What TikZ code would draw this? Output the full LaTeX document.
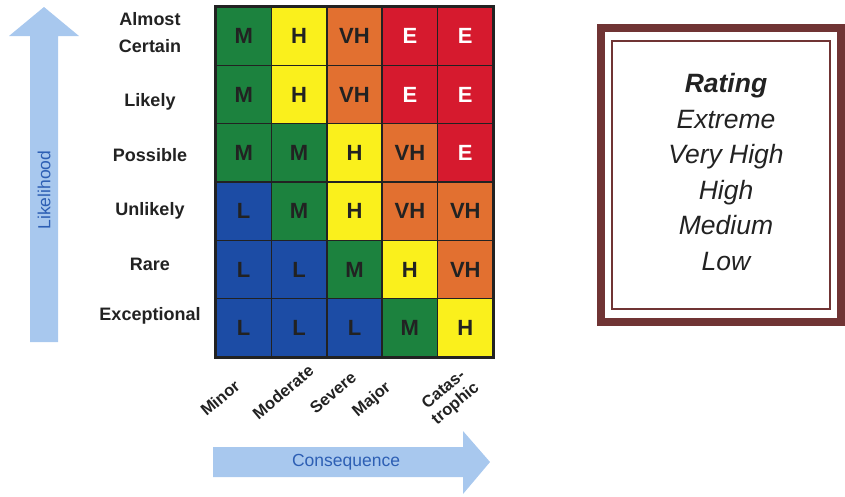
\documentclass[tikz,border=0pt]{standalone}
\usepackage{fontspec}
\setmainfont{Liberation Sans}
\definecolor{cg}{RGB}{28,130,62}
\definecolor{cy}{RGB}{250,240,28}
\definecolor{co}{RGB}{226,112,48}
\definecolor{cr}{RGB}{214,26,46}
\definecolor{cb}{RGB}{28,76,165}
\definecolor{arrowblue}{RGB}{168,200,238}
\definecolor{axistext}{RGB}{45,95,180}
\definecolor{ink}{RGB}{34,34,34}
\definecolor{framered}{RGB}{112,52,52}
\tikzset{
  cell/.style={draw=ink, line width=1.5pt, minimum width=55.4pt, minimum height=58.33pt,
    inner sep=0pt, text=ink, font=\bfseries\fontsize{22}{24}\selectfont},
  rate L/.style={fill=cb},
  rate M/.style={fill=cg},
  rate H/.style={fill=cy},
  rate VH/.style={fill=co},
  rate E/.style={fill=cr, text=white},
  rowlabel/.style={text=ink, align=center, inner sep=0pt,
    font=\bfseries\fontsize{18}{27}\selectfont},
  collabel/.style={text=ink, align=center, inner sep=0pt, rotate=40,
    font=\bfseries\fontsize{16.5}{18.5}\selectfont},
  axislabel/.style={text=axistext, inner sep=0pt, font=\fontsize{17.5}{20}\selectfont},
  bigarrow/.style={fill=arrowblue, draw=none},
  ratingtext/.style={text=ink, align=center, inner sep=0pt,
    font=\itshape\fontsize{26.5}{35.5}\selectfont}
}
\begin{document}
\begin{tikzpicture}[x=1pt, y=-1pt]
\useasboundingbox (0,0) rectangle (845,496);

% likelihood arrow (pointing up)
\fill[bigarrow] (30,342) -- (30,36) -- (9,36) -- (44,7) -- (79,36) -- (58,36) -- (58,342) -- cycle;
\node[axislabel, rotate=90] (likelihood) at (44,190) {Likelihood};

% consequence arrow (pointing right)
\fill[bigarrow] (213,447) -- (463,447) -- (463,431) -- (490,462) -- (463,494) -- (463,477) -- (213,477) -- cycle;
\node[axislabel] (consequence) at (346,462) {Consequence};

% risk matrix cells
\foreach \rowlist [count=\r] in {{M,H,VH,E,E},{M,H,VH,E,E},{M,M,H,VH,E},{L,M,H,VH,VH},{L,L,M,H,VH},{L,L,L,M,H}} {
  \foreach \c [count=\k] in \rowlist {
    \node[cell, rate \c] (c-\r-\k) at ({216+55.4*(\k-0.5)},{7+58.33*(\r-0.5)}) {\c};
  }
}
\draw[ink, line width=2pt] (c-1-1.north west) rectangle (c-6-5.south east);

% likelihood levels
\node[rowlabel] (row-1) at (150,33) {Almost\\Certain};
\node[rowlabel] (row-2) at (150,102) {Likely};
\node[rowlabel] (row-3) at (150,155) {Possible};
\node[rowlabel] (row-4) at (150,211) {Unlikely};
\node[rowlabel] (row-5) at (150,264) {Rare};
\node[rowlabel] (row-6) at (150,316) {Exceptional};

% consequence levels
\node[collabel] (col-1) at (220,398) {Minor};
\node[collabel] (col-2) at (283,392) {Moderate};
\node[collabel] (col-3) at (333,393) {Severe};
\node[collabel] (col-4) at (372,400) {Major};
\node[collabel] (col-5) at (450,397) {Catas-\\trophic};

% rating legend with double frame
\draw[framered, line width=8pt] (601,28) rectangle (841,322);
\draw[framered, line width=2.5pt] (612,41) rectangle (830,309);
\node[ratingtext] (rating) at (726,172) {\textbf{Rating}\\Extreme\\Very High\\High\\Medium\\Low};
\end{tikzpicture}
\end{document}
